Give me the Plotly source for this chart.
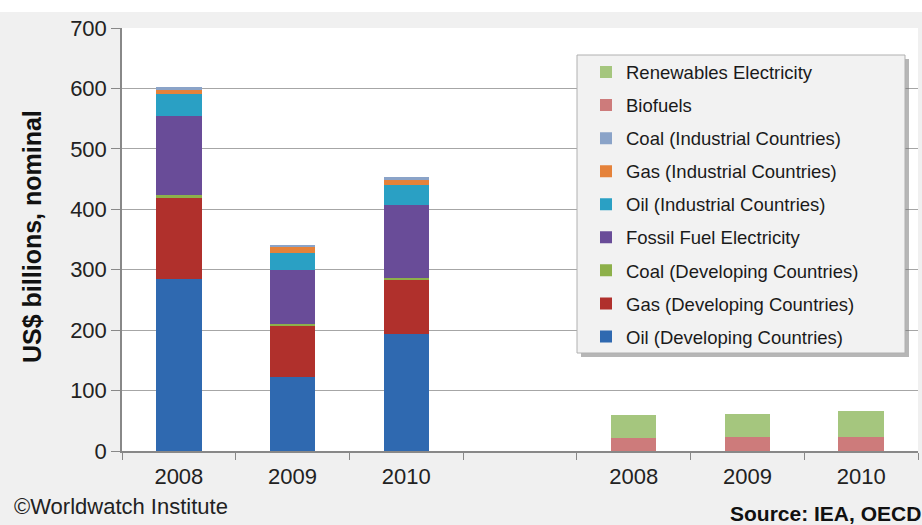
import plotly.graph_objects as go

# ---- data ----
left_ids = ["L2008", "L2009", "L2010"]
right_ids = ["R2008", "R2009", "R2010"]
all_ids = ["L2008", "L2009", "L2010", "GAP", "R2008", "R2009", "R2010"]
tick_text = ["2008", "2009", "2010", "", "2008", "2009", "2010"]

oil_dev = [285, 122, 193]
gas_dev = [135, 86, 91]
coal_dev = [3, 2, 3]
fossil_elec = [132, 90, 120]
oil_ind = [35, 28, 33]
gas_ind = [8, 9, 8]
coal_ind = [5, 4, 5]

biofuels = [22, 23, 23]
renew_elec = [38, 38, 43]

fossil_series = [
    ("Oil (Developing Countries)", oil_dev, "#2f69b0"),
    ("Gas (Developing Countries)", gas_dev, "#b0302c"),
    ("Coal (Developing Countries)", coal_dev, "#8db04a"),
    ("Fossil Fuel Electricity", fossil_elec, "#694c98"),
    ("Oil (Industrial Countries)", oil_ind, "#2aa0c4"),
    ("Gas (Industrial Countries)", gas_ind, "#e5823a"),
    ("Coal (Industrial Countries)", coal_ind, "#8aa3c8"),
]
renew_series = [
    ("Biofuels", biofuels, "#cd7b7b"),
    ("Renewables Electricity", renew_elec, "#a5c67e"),
]

all_series = [(n, v, c, left_ids) for n, v, c in fossil_series] + \
             [(n, v, c, right_ids) for n, v, c in renew_series]
n_series = len(all_series)

fig = go.Figure()
for i, (name, vals, col, xs) in enumerate(all_series):
    fig.add_trace(go.Bar(x=xs, y=vals, name=name, marker_color=col,
                         marker_line_width=0, legendgroup=f"g{i}",
                         legendrank=n_series - i))

FONT = "Liberation Sans, Arial, sans-serif"

# legend box (pixels)
LX0, LX1, LY0, LY1 = 577, 905, 55, 353
PW, PH, PL, PB = 796, 423, 122, 451


def px_x(v):
    return (v - PL) / PW


def px_y(v):
    return (PB - v) / PH


fig.update_layout(
    width=922, height=525,
    margin=dict(l=122, r=4, t=28, b=74),
    paper_bgcolor="#f0f0f0",
    plot_bgcolor="#ffffff",
    barmode="stack",
    bargap=0.6,
    font=dict(family=FONT, color="#222222"),
    showlegend=True,
    legend=dict(
        x=px_x(586), y=px_y(53.5), xanchor="left", yanchor="top",
        bgcolor="rgba(0,0,0,0)", borderwidth=0,
        traceorder="grouped", tracegroupgap=6,
        font=dict(family=FONT, size=18.5, color="#1a1a1a"),
        itemwidth=30,
    ),
    xaxis=dict(
        type="category", categoryorder="array", categoryarray=all_ids,
        tickmode="array", tickvals=all_ids, ticktext=tick_text,
        tickson="boundaries", ticks="outside", ticklen=7, tickcolor="#888888",
        showline=True, linecolor="#888888", linewidth=1.5,
        tickfont=dict(family=FONT, size=22, color="#222222"),
        ticklabelstandoff=5,
        range=[-0.5, 6.5], showgrid=False,
    ),
    yaxis=dict(
        range=[0, 700], dtick=100, tick0=0,
        showgrid=True, gridcolor="#a6a6a6", gridwidth=1.3,
        showline=True, linecolor="#888888", linewidth=1.5,
        ticks="outside", ticklen=9, tickcolor="#888888",
        tickfont=dict(family=FONT, size=22, color="#222222"),
        zeroline=False,
    ),
    shapes=[
        dict(type="rect", xref="paper", yref="paper",
             x0=px_x(0), x1=px_x(922), y0=px_y(12), y1=px_y(0),
             fillcolor="#ffffff", line_width=0, layer="below"),
        # legend drop shadow
        dict(type="rect", xref="paper", yref="paper",
             x0=px_x(LX0 + 4), x1=px_x(LX1 + 4), y0=px_y(LY1 + 4), y1=px_y(LY0 + 4),
             fillcolor="rgba(110,110,110,0.5)", line_width=0, layer="above"),
        # legend box
        dict(type="rect", xref="paper", yref="paper",
             x0=px_x(LX0), x1=px_x(LX1), y0=px_y(LY1), y1=px_y(LY0),
             fillcolor="#f2f2f2", line=dict(color="#b0b0b0", width=1), layer="above"),
    ],
    annotations=[
        dict(text="<b>US$ billions, nominal</b>", textangle=-90,
             xref="paper", yref="paper", x=px_x(32), y=px_y(237),
             xanchor="center", yanchor="middle", showarrow=False,
             font=dict(family=FONT, size=25, color="#111111")),
        dict(text="©Worldwatch Institute", xref="paper", yref="paper",
             x=px_x(12), y=px_y(506), xanchor="left", yanchor="middle",
             showarrow=False, font=dict(family=FONT, size=22, color="#222222")),
        dict(text="<b>Source: IEA, OECD</b>", xref="paper", yref="paper",
             x=px_x(728), y=px_y(513), xanchor="left", yanchor="middle",
             showarrow=False, font=dict(family=FONT, size=21, color="#111111")),
    ],
)

fig.write_html("out.html")
